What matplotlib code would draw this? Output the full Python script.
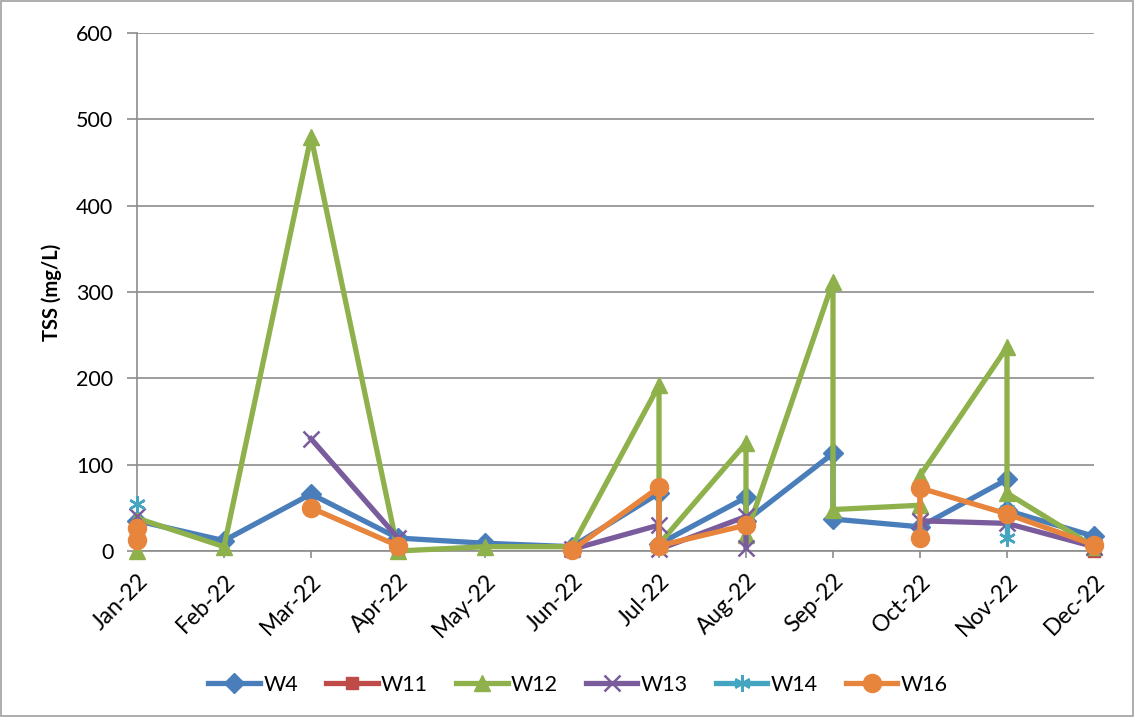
import numpy as np
import matplotlib
matplotlib.use("Agg")
import matplotlib.pyplot as plt
from matplotlib.patches import Rectangle

nan = np.nan

# =====================================================
# DATA
# =====================================================

months = ["Jan-22", "Feb-22", "Mar-22", "Apr-22", "May-22", "Jun-22",
          "Jul-22", "Aug-22", "Sep-22", "Oct-22", "Nov-22", "Dec-22"]

w4_month = [0, 1, 2, 3, 4, 5, 6, 6, 7, 7, 8, 8, 9, 10, 10, 11]
w4_tss = [35, 12, 66, 15, 9, 5, 67, 8, 62, 35, 113, 37, 28, 83, 47, 17]

w11_month = [3, 4, 5, 6, 11]
w11_tss = [0, nan, 0, nan, 0]

w12_month = [0, 0, 1, 2, 3, 4, 5, 6, 6, 7, 7, 8, 8, 9, 9, 10, 10, 11]
w12_tss = [0, 38, 5, 480, 0, 5, 5, 192, 8, 125, 18, 312, 48, 53, 87, 236, 67, 5]

w13_month = [0, 1, 2, 3, 4, 5, 6, 6, 7, 7, 8, 9, 10, 11]
w13_tss = [40, nan, 130, 15, nan, 2, 30, 2, 40, 4, nan, 35, 32, 5]

w14_month = [0, 1, 10, 10]
w14_tss = [55, nan, 47, 15]

w16_month = [0, 0, 1, 2, 3, 4, 5, 6, 6, 7, 8, 9, 9, 10, 11]
w16_tss = [27, 13, nan, 50, 6, nan, 1, 74, 6, 30, nan, 15, 73, 43, 7]

series = [
    ("W4", w4_month, w4_tss, "#4A7EBB", "D", 10),
    ("W11", w11_month, w11_tss, "#BE4B48", "s", 9),
    ("W12", w12_month, w12_tss, "#8EB14B", "^", 12),
    ("W13", w13_month, w13_tss, "#7A5C9C", "x", 11),
    ("W14", w14_month, w14_tss, "#43A5C0", (6, 2, 0), 12),
    ("W16", w16_month, w16_tss, "#E8853D", "o", 13),
]

# =====================================================
# FIGURE
# =====================================================

plt.rcParams["font.family"] = ["Lato", "DejaVu Sans"]

fig = plt.figure(figsize=(11.35, 7.17), dpi=100)
ax = fig.add_axes([137 / 1135, 1 - 551 / 717, (1094 - 137) / 1135, (551 - 33) / 717])

grid_color = "#8C8C8C"

for i, (name, xs, ys, color, marker, ms) in enumerate(series):
    ax.plot(
        xs, ys,
        color=color,
        linewidth=3.8,
        marker=marker,
        markersize=ms,
        markeredgewidth=1.8 if marker in ("x", (6, 2, 0)) else 1,
        markeredgecolor=color,
        markerfacecolor=color,
        label=name,
        zorder=3 + i,
        clip_on=False,
    )

ax.set_xlim(0, 11)
ax.set_ylim(0, 600)
ax.set_yticks(range(0, 601, 100))
ax.set_xticks(range(len(months)))
ax.set_xticklabels(months, rotation=45, ha="right", rotation_mode="anchor",
                   fontsize=16.5)

ax.grid(axis="y", color=grid_color, linewidth=1.2)
ax.set_axisbelow(True)

for side in ["top", "right"]:
    ax.spines[side].set_visible(False)
ax.spines["left"].set_color(grid_color)
ax.spines["bottom"].set_color(grid_color)
ax.spines["left"].set_linewidth(1.2)
ax.spines["bottom"].set_linewidth(1.2)

ax.tick_params(axis="both", colors=grid_color, labelcolor="black", width=1.2)
ax.tick_params(axis="y", length=7, pad=10, labelsize=15.5)
ax.tick_params(axis="x", length=5, pad=9)

ax.set_ylabel("TSS (mg/L)", fontsize=14.5, fontweight="bold", labelpad=10)

fig.legend(
    loc="center",
    bbox_to_anchor=(578 / 1135, 1 - 685 / 717),
    ncol=6,
    frameon=False,
    fontsize=15.5,
    handlelength=2.4,
    columnspacing=1.3,
    handletextpad=0.15,
)

fig.patches.append(Rectangle((0.001, 0.002), 0.997, 0.996,
                             transform=fig.transFigure, fill=False,
                             edgecolor="#A0A0A0", linewidth=1.2))

fig.savefig("out.png", dpi=100)
